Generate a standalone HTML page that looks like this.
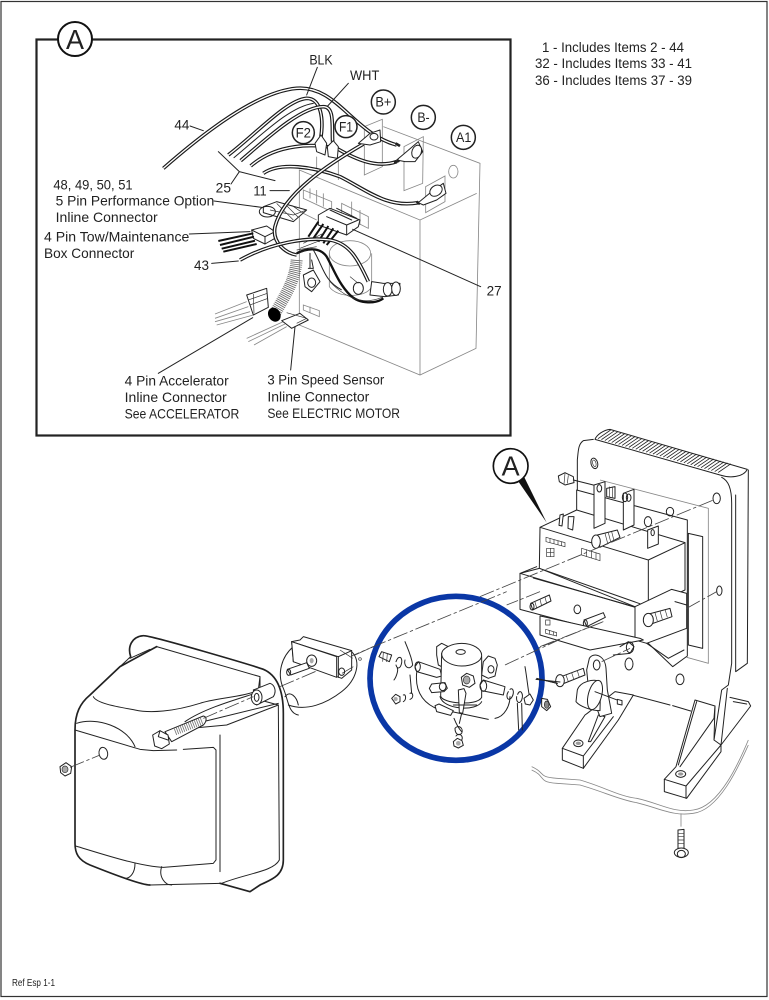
<!DOCTYPE html>
<html><head><meta charset="utf-8"><style>
html,body{margin:0;padding:0;background:#fff;width:769px;height:1000px;overflow:hidden}
svg{display:block}
text{font-family:"Liberation Sans",sans-serif;fill:#222}
.z text{font-size:42px}
.l{fill:none;stroke:#222;stroke-width:3;stroke-linecap:round;stroke-linejoin:round}
.f{fill:#fff;stroke:#222;stroke-width:3;stroke-linejoin:round}
.g{fill:none;stroke:#888;stroke-width:2.5}
.h{fill:none;stroke:#333;stroke-width:2}
.w{fill:none;stroke:#1a1a1a;stroke-width:11;stroke-linecap:butt}
.c{fill:none;stroke:#fff;stroke-width:4;stroke-linecap:butt}
.d{fill:none;stroke:#444;stroke-width:2.5;stroke-dasharray:45 8 10 8}
.t{fill:none;stroke:#222;stroke-width:5;stroke-linecap:round;stroke-linejoin:round}
</style></head><body>
<svg width="769" height="1000" viewBox="0 0 769 1000" xmlns="http://www.w3.org/2000/svg">
<rect width="769" height="1000" fill="#fff"/>
<rect x="1" y="1.5" width="766" height="995" fill="none" stroke="#333" stroke-width="1.2"/>
<rect x="36.5" y="39.5" width="474" height="396" fill="#fff" stroke="#222" stroke-width="2.2"/>
<circle cx="75" cy="39" r="17" fill="#fff" stroke="#111" stroke-width="2"/>
<text x="75" y="49" font-size="28" text-anchor="middle" textLength="18" lengthAdjust="spacingAndGlyphs">A</text>
<text x="542" y="52" font-size="13.5" textLength="142" lengthAdjust="spacingAndGlyphs">1 - Includes Items 2 - 44</text>
<text x="535" y="68" font-size="13.5" textLength="157" lengthAdjust="spacingAndGlyphs">32 - Includes Items 33 - 41</text>
<text x="535" y="85" font-size="13.5" textLength="157" lengthAdjust="spacingAndGlyphs">36 - Includes Items 37 - 39</text>
<text x="12" y="986" font-size="10" textLength="43" lengthAdjust="spacingAndGlyphs">Ref Esp 1-1</text>

<!-- Inset -->
<g class="z" transform="translate(30,20) scale(.33333)">
<g class="g">
<path d="M1060,320 L1350,430 L1338,985 L1170,1065 L808,915 L808,450 L1170,600 L1170,1065"/>
<path d="M1170,600 L1340,520"/>
<path d="M1003,465 V320 L1057,298 V440 Z M1122,380 L1180,350 L1178,490 L1122,512 Z M1187,500 L1245,468 V545 L1187,578 Z"/>
<ellipse cx="1270" cy="455" rx="14" ry="19"/>
<path d="M860,410 V470 M925,420 V480"/>
<path d="M820,510 L905,545 V575 L820,535 Z M840,505 V535 M860,510 V550 M880,520 V560"/>
<path d="M935,550 L1015,590 V625 L935,585 Z M965,545 V590 M990,570 V615"/>
<path d="M820,855 L868,872 V890 L820,870 Z M840,860 V878"/>
<path d="M820,580 L860,600"/>
</g>
<ellipse cx="960" cy="700" rx="62" ry="38" class="g"/><path class="g" d="M898,700 V800 C920,835 1010,835 1025,800 V700"/>
<!-- connectors -->
<path class="f" d="M700,560 L740,545 L830,570 L790,605 L700,578 Z"/>
<path class="h" stroke-width="3" d="M740,550 L790,600 M765,552 L805,592 M785,556 L820,580 M720,570 L790,585 L830,570"/>
<ellipse cx="712" cy="575" rx="24" ry="16" class="l"/>
<path class="f" d="M665,630 L710,618 L735,635 L735,655 L705,672 L670,655 Z"/>
<path class="l" d="M665,630 L705,650 V672 M705,650 L735,635"/>
<path d="M565,663 L670,640 M570,675 L672,650 M575,686 L675,662 M580,695 L680,672" fill="none" stroke="#111" stroke-width="6"/>
<path class="f" d="M865,585 L900,565 L990,600 L985,620 L950,645 L865,615 Z"/>
<path class="l" d="M900,570 L965,600 M920,565 L980,595 M890,590 L950,615 L985,600 M950,615 V645"/>
<path d="M865,605 L835,650 M880,612 L850,655 M895,618 L865,665 M910,625 L880,670 M925,632 L890,675" fill="none" stroke="#111" stroke-width="6"/>
<path class="h" d="M820,670 L880,640 M800,690 L860,680 M810,685 L875,660"/>
<!-- wires -->
<path class="w" d="M400,445 C520,340 680,215 800,205 C920,195 970,340 1100,375"/><path class="c" d="M400,445 C520,340 680,215 800,205 C920,195 970,340 1100,375"/>
<path class="w" d="M595,405 C680,340 770,240 830,235 C875,235 880,300 873,350"/><path class="c" d="M595,405 C680,340 770,240 830,235 C875,235 880,300 873,350"/>
<path class="w" d="M632,422 C700,365 810,260 880,260 C915,260 905,320 908,365"/><path class="c" d="M632,422 C700,365 810,260 880,260 C915,260 905,320 908,365"/>
<path class="l" stroke-width="4" d="M612,413 C700,340 780,260 850,250"/>
<path class="w" d="M662,438 C740,370 850,370 920,385 C980,420 1040,445 1100,425"/><path class="c" d="M662,438 C740,370 850,370 920,385 C980,420 1040,445 1100,425"/>
<path class="w" d="M700,460 C750,425 850,440 930,470 C1010,510 1070,565 1165,548"/><path class="c" d="M700,460 C750,425 850,440 930,470 C1010,510 1070,565 1165,548"/>
<path class="w" d="M1000,372 C900,430 760,520 735,620 C725,670 770,700 800,705"/><path class="c" d="M1000,372 C900,430 760,520 735,620 C725,670 770,700 800,705"/>
<path class="w" d="M630,720 C720,670 830,650 900,660 C960,670 985,720 1015,785"/><path class="c" d="M630,720 C720,670 830,650 900,660 C960,670 985,720 1015,785"/>
<path d="M800,700 C830,685 870,680 890,710 C910,745 925,790 960,825 C990,855 1040,850 1060,835" fill="none" stroke="#111" stroke-width="7"/>
<path d="M830,690 L805,700 M850,690 C880,740 880,780 935,810" fill="none" stroke="#222" stroke-width="3"/>
<!-- terminals -->
<path class="f" d="M860,395 L855,370 L873,345 L890,370 L885,405 Z M895,410 L892,380 L910,362 L925,380 L922,415 Z"/>
<path class="f" d="M985,370 L1020,340 L1050,330 L1052,365 L1020,375 Z"/><ellipse cx="1032" cy="350" rx="12" ry="10" class="l"/>
<path class="f" d="M1100,420 L1130,395 L1165,365 L1178,395 L1155,425 L1125,425 Z"/><ellipse cx="1160" cy="395" rx="14" ry="20" class="f" transform="rotate(20 1160 395)"/>
<path d="M1097,370 L1110,378 M1092,428 L1108,422 M1160,545 L1170,552" stroke="#222" stroke-width="8"/>
<path class="f" d="M1165,548 L1205,515 L1240,490 L1248,520 L1220,540 L1180,555 Z"/><ellipse cx="1218" cy="512" rx="20" ry="15" class="f" transform="rotate(-35 1218 512)"/>
<path class="f" d="M820,765 L850,750 L870,785 L845,815 L825,800 Z"/><ellipse cx="845" cy="788" rx="12" ry="14" class="l"/>
<path class="l" d="M840,700 V745 M835,745 L850,745 L845,720"/>
<ellipse cx="985" cy="805" rx="15" ry="18" class="f"/>
<path class="f" d="M1025,785 L1060,790 L1110,790 L1105,825 L1065,830 L1020,825 Z"/>
<ellipse cx="1073" cy="808" rx="13" ry="20" class="f"/><ellipse cx="1098" cy="806" rx="13" ry="20" class="f"/>
<path class="h" d="M900,785 C960,850 1020,850 1060,830 M960,770 L985,790" />
<!-- corrugated -->
<path d="M800,720 C795,780 770,820 735,880" fill="none" stroke="#666" stroke-width="36" stroke-dasharray="2.5 3.5"/>
<ellipse cx="733" cy="884" rx="18" ry="22" fill="#000" transform="rotate(-30 733 884)"/>
<!-- accelerator -->
<path class="g" d="M650,845 L555,882 M655,860 L555,895 M660,875 L555,905 M670,885 L560,915"/>
<path class="f" d="M650,825 L710,805 L715,862 L670,885 Z"/><path class="h" d="M670,822 L672,880 M655,840 L712,820 M660,855 L714,835"/>
<path class="g" d="M760,905 L650,955 M765,912 L655,965 M770,920 L672,975"/>
<path class="f" d="M755,902 L810,880 L835,900 L785,925 Z"/>
<path class="h" d="M770,878 L830,895 L800,910"/>
<!-- leader lines -->
<path class="l" d="M552,543 L695,562 M478,642 L660,635 M545,730 L625,723 M968,628 L1352,800 M720,512 L778,512 M603,492 L628,455 L565,395 M628,455 L735,482 M385,1060 L668,893 M782,1050 L795,920 M480,318 L520,332 M830,225 L862,142 M893,258 L955,190" stroke-width="2.6"/>
<g fill="#fff" stroke="#222" stroke-width="4.5">
<circle cx="1060" cy="246" r="36"/><circle cx="1180" cy="292" r="36"/><circle cx="1300" cy="352" r="36"/><circle cx="820" cy="338" r="33"/><circle cx="948" cy="320" r="33"/>
</g>
<text x="1036" y="260" textLength="48" lengthAdjust="spacingAndGlyphs">B+</text>
<text x="1162" y="306" textLength="37" lengthAdjust="spacingAndGlyphs">B-</text>
<text x="1278" y="366" textLength="46" lengthAdjust="spacingAndGlyphs">A1</text>
<text x="797" y="352" textLength="46" lengthAdjust="spacingAndGlyphs">F2</text>
<text x="927" y="334" textLength="42" lengthAdjust="spacingAndGlyphs">F1</text>
<text x="838" y="133" textLength="70" lengthAdjust="spacingAndGlyphs">BLK</text>
<text x="960" y="180" textLength="88" lengthAdjust="spacingAndGlyphs">WHT</text>
<text x="433" y="328" textLength="45" lengthAdjust="spacingAndGlyphs">44</text>
<text x="557" y="518" textLength="46" lengthAdjust="spacingAndGlyphs">25</text>
<text x="670" y="526" textLength="40" lengthAdjust="spacingAndGlyphs">11</text>
<text x="70" y="508" textLength="238" lengthAdjust="spacingAndGlyphs">48, 49, 50, 51</text>
<text x="77" y="556" textLength="476" lengthAdjust="spacingAndGlyphs">5 Pin Performance Option</text>
<text x="77" y="606" textLength="306" lengthAdjust="spacingAndGlyphs">Inline Connector</text>
<text x="42" y="664" textLength="436" lengthAdjust="spacingAndGlyphs">4 Pin Tow/Maintenance</text>
<text x="42" y="714" textLength="271" lengthAdjust="spacingAndGlyphs">Box Connector</text>
<text x="492" y="750" textLength="45" lengthAdjust="spacingAndGlyphs">43</text>
<text x="1370" y="826" textLength="45" lengthAdjust="spacingAndGlyphs">27</text>
<text x="284" y="1096" textLength="312" lengthAdjust="spacingAndGlyphs">4 Pin Accelerator</text>
<text x="284" y="1146" textLength="306" lengthAdjust="spacingAndGlyphs">Inline Connector</text>
<text x="284" y="1196" textLength="344" lengthAdjust="spacingAndGlyphs">See ACCELERATOR</text>
<text x="712" y="1094" textLength="351" lengthAdjust="spacingAndGlyphs">3 Pin Speed Sensor</text>
<text x="712" y="1144" textLength="306" lengthAdjust="spacingAndGlyphs">Inline Connector</text>
<text x="712" y="1194" textLength="398" lengthAdjust="spacingAndGlyphs">See ELECTRIC MOTOR</text>
</g>

<!-- Controller assembly -->
<g transform="translate(480,420) scale(.33333)">
<!-- plate outline, lines only -->
<path class="l" d="M292,290 V120 C295,90 295,72 310,62 L340,58"/>
<path class="l" d="M725,172 C745,182 755,205 755,250 V730 L745,795 L725,810 L702,960 M767,225 V755 L802,730 L805,150 M742,805 L723,975"/>
<path class="l" d="M750,832 L805,845 L812,858 L723,975 M760,845 L800,852"/>
<!-- heat sink -->
<path class="f" d="M345,58 L720,165 C750,175 790,172 802,148 L390,28 C370,30 350,45 345,58 Z"/>
<path fill="none" stroke="#222" stroke-width="2.4" d="M354,56 l38,-26 m-27.7,28.9 l38,-26 m-27.7,28.9 l38,-26 m-27.7,28.9 l38,-26 m-27.7,28.9 l38,-26 m-27.7,28.9 l38,-26 m-27.7,28.9 l38,-26 m-27.7,28.9 l38,-26 m-27.7,28.9 l38,-26 m-27.7,28.9 l38,-26 m-27.7,28.9 l38,-26 m-27.7,28.9 l38,-26 m-27.7,28.9 l38,-26 m-27.7,28.9 l38,-26 m-27.7,28.9 l38,-26 m-27.7,28.9 l38,-26 m-27.7,28.9 l38,-26 m-27.7,28.9 l38,-26 m-27.7,28.9 l38,-26 m-27.7,28.9 l38,-26 m-27.7,28.9 l38,-26 m-27.7,28.9 l38,-26 m-27.7,28.9 l38,-26 m-27.7,28.9 l38,-26 m-27.7,28.9 l38,-26 m-27.7,28.9 l38,-26 m-27.7,28.9 l38,-26 m-27.7,28.9 l38,-26 m-27.7,28.9 l38,-26 m-27.7,28.9 l38,-26 m-27.7,28.9 l38,-26 m-27.7,28.9 l38,-26 m-27.7,28.9 l38,-26 m-27.7,28.9 l38,-26 m-27.7,28.9 l38,-26 m-27.7,28.9 l38,-26"/>
<ellipse cx="343" cy="130" rx="10" ry="16" class="l" transform="rotate(-15 343 130)"/><ellipse cx="343" cy="130" rx="5" ry="10" class="h" transform="rotate(-15 343 130)"/>
<ellipse cx="710" cy="235" rx="11" ry="16" class="l"/>
<path class="g" d="M360,180 L685,265 V730 L620,712"/>
<path class="f" d="M290,210 L622,300 V708 L578,740 L505,670 V500 L290,440 Z"/>
<path class="f" d="M625,340 L668,350 V685 L625,675 Z"/>
<ellipse cx="570" cy="275" rx="11" ry="13" class="l"/>
<!-- box -->
<path class="f" d="M180,322 L290,270 L615,368 V510 L505,560 L178,445 Z"/>
<path class="l" d="M180,322 L505,420 L615,368 M505,420 V545"/>
<path class="f" d="M240,285 L250,282 L246,318 L237,316 Z M265,290 L282,290 L278,330 L264,325 Z"/>
<path class="f" d="M342,195 L375,185 V310 L342,325 Z"/><ellipse cx="358" cy="205" rx="7" ry="11" class="l"/>
<path class="f" d="M430,220 L462,208 V315 L430,330 Z"/><ellipse cx="446" cy="233" rx="7" ry="11" class="l"/>
<path class="f" d="M503,330 L535,318 V372 L503,385 Z"/><ellipse cx="518" cy="338" rx="5" ry="9" class="l"/>
<path class="h" d="M198,352 L255,368 V380 L198,365 Z M210,355 V368 M222,358 V372 M234,361 V375 M245,364 V378 M200,385 H222 V410 H200 Z M211,385 V410 M200,397 H222 M305,385 L360,402 V422 L305,405 Z M320,388 V410 M335,393 V415 M348,398 V418"/>
<path class="f" d="M235,168 L255,158 L280,170 L282,188 L255,195 L238,185 Z"/><path class="h" d="M255,160 L252,192 M265,166 L262,190"/><path class="l" d="M280,180 L340,195"/>
<path class="f" d="M380,205 L405,200 L405,235 L380,230 Z"/><path class="h" d="M388,200 V232 M397,200 V232"/><ellipse cx="435" cy="232" rx="8" ry="13" class="l"/>
<ellipse cx="504" cy="305" rx="11" ry="15" class="l"/>
<!-- top bolt -->
<path class="f" d="M352,345 L412,330 L420,352 L360,382 Z"/><ellipse cx="348" cy="365" rx="13" ry="20" class="f"/><path class="h" d="M375,340 L383,370 M385,338 L392,365 M395,335 L402,362"/>
<!-- bracket -->
<path class="f" d="M120,460 L178,445 L465,560 L575,508 L620,520 V625 L500,670 L465,660 L120,568 Z"/>
<path class="l" d="M120,460 L160,472 L465,562 V660 M620,555 L585,545"/>
<path class="l" stroke-width="5" d="M160,474 L462,560 M125,458 L170,440"/>
<path class="f" d="M152,550 L208,525 L213,543 L158,570 Z"/><ellipse cx="156" cy="560" rx="6" ry="10" class="l"/>
<path class="h" d="M165,546 L170,564 M180,538 L185,558 M195,532 L200,550"/>
<path class="f" d="M312,600 L370,578 L376,592 L320,620 Z"/><ellipse cx="316" cy="610" rx="6" ry="10" class="l"/>
<ellipse cx="292" cy="568" rx="10" ry="13" class="l"/>
<path class="f" d="M495,585 L570,565 L576,590 L505,615 Z"/><ellipse cx="505" cy="600" rx="15" ry="20" class="f"/><path class="h" d="M525,578 L532,603 M540,573 L547,598 M555,568 L562,592"/>
<ellipse cx="718" cy="512" rx="8" ry="14" class="l"/>
<path class="l" d="M500,670 L565,715 L612,690" />
<path class="f" d="M180,588 V645 L330,690 L490,660 L480,655 L190,590 Z"/>
<path class="h" d="M197,600 H210 V615 H197 Z M197,628 L230,638 V648 L197,640 Z M208,630 V642 M220,634 V645"/>
<path class="l" d="M420,680 L445,665 L462,680 L450,700 L400,705"/>
<ellipse cx="450" cy="682" rx="11" ry="16" class="l"/>
<ellipse cx="447" cy="732" rx="12" ry="18" class="l"/><ellipse cx="600" cy="778" rx="12" ry="16" class="l"/>
<!-- back line between feet -->
<path class="l" stroke-width="4" d="M460,826 L570,855 M578,857 L632,873"/>
<!-- left mount -->
<path class="f" d="M247,985 L315,885 L322,880 L405,815 L460,825 L415,900 L310,1045 L247,1020 Z"/>
<path class="l" d="M247,985 L310,1008 V1045 M310,1008 L400,890"/>
<path class="l" d="M325,965 L355,885 L375,890 L332,965 Z"/>
<ellipse cx="295" cy="970" rx="14" ry="10" class="l"/><ellipse cx="295" cy="970" rx="8" ry="5" fill="#999"/>
<path class="f" d="M320,750 L328,715 C340,695 375,705 378,745 L382,810 L395,880 L360,890 L325,800 Z"/><ellipse cx="350" cy="735" rx="10" ry="15" class="l"/>
<path class="f" d="M292,810 C300,785 340,775 362,785 L360,872 C335,872 300,860 288,845 Z"/><ellipse cx="345" cy="825" rx="20" ry="45" class="f" transform="rotate(15 345 825)"/>
<path class="f" d="M230,775 L310,745 L315,765 L240,795 Z"/><ellipse cx="240" cy="782" rx="13" ry="18" class="f"/>
<path class="h" d="M258,765 L265,785 M275,758 L282,780 M292,752 L298,772"/>
<path class="l" d="M170,775 L232,790" stroke-width="5"/>
<path class="l" d="M345,815 L425,845" stroke-width="5"/><path class="f" d="M412,838 L426,842 V855 L412,852 Z"/>
<!-- right foot -->
<path class="f" d="M553,1078 L588,1040 L645,840 L705,858 L702,960 L723,975 L723,995 L620,1135 L553,1115 Z"/>
<path class="l" d="M553,1078 L618,1098 V1135 M618,1098 L723,975 M702,895 L600,1040 M702,895 L705,858 M595,1035 L650,845"/>
<ellipse cx="602" cy="1062" rx="15" ry="10" class="l"/><ellipse cx="602" cy="1062" rx="8" ry="5" fill="#999"/>
<!-- floor lines -->
<path class="g" d="M155,1040 C200,1060 170,1070 230,1075 L300,1080 C370,1100 420,1130 470,1135 C540,1150 580,1180 640,1170 C720,1160 780,1020 805,960"/>
<path class="g" d="M155,1050 C200,1070 170,1085 230,1090 L300,1095 C370,1115 420,1140 470,1148 C540,1165 580,1190 640,1180 C720,1170 780,1030 805,975"/>
<!-- bottom bolt -->
<path class="g" d="M603,1180 V1220"/>
<path class="f" d="M594,1230 L612,1228 L612,1285 L594,1285 Z"/><path class="h" d="M594,1240 H612 M594,1250 H612 M594,1260 H612 M594,1270 H612"/>
<ellipse cx="604" cy="1298" rx="21" ry="14" class="f"/><ellipse cx="604" cy="1302" rx="12" ry="11" class="l"/>
<!-- center lines -->
<path class="d" d="M0,530 L700,240 M180,680 L370,605 M60,730 L370,605 M620,565 L710,515 M365,725 L450,685"/>
<!-- A callout -->
<path d="M112,180 L200,308 L132,170 Z" fill="#111"/>
<circle cx="92" cy="138" r="52" fill="#fff" stroke="#111" stroke-width="5"/>
<text x="92" y="166" font-size="84" text-anchor="middle" textLength="54" lengthAdjust="spacingAndGlyphs">A</text>
</g>

<!-- Cover and solenoid -->
<g transform="translate(40,590) scale(.33333)">
<path class="f" d="M272,200 C262,170 275,140 310,137 C330,135 650,230 670,238 C710,255 730,300 730,370 L730,810 C730,860 690,870 660,885 L630,905 L540,880 L330,885 C300,885 200,845 150,825 C115,810 105,790 105,760 L105,420 C105,370 120,340 150,315 L240,230 Z"/>
<path class="t" d="M272,200 C262,170 275,140 310,137 C330,135 650,230 670,238 C710,255 730,300 730,370 L730,810 C730,860 690,870 660,885 L630,905 L540,880 M330,885 C300,885 200,845 150,825 C115,810 105,790 105,760 L105,420 C105,370 120,340 150,315 L240,230 L350,170"/>
<path class="l" d="M350,170 L660,260 L655,300 C620,320 520,325 480,340 C400,365 330,370 285,360 C230,350 170,340 160,320 M660,260 V330 L715,345 L718,810 C700,845 620,850 545,880 M270,205 L330,178"/>
<path class="l" d="M105,420 L300,478 L340,482 L410,480 M430,478 L520,472 L528,480 V810 L520,820 L370,832 C300,830 180,790 107,768" stroke-width="4"/>
<path class="l" d="M110,400 C170,380 260,410 285,470 M285,820 C285,850 270,865 255,865 M365,830 C355,860 375,885 395,885 M540,435 V845 M435,395 C500,350 620,320 660,305 M450,415 L560,405 L715,345 M490,395 L715,340" stroke-width="3"/>
<path class="l" d="M105,420 V760" stroke-width="5"/>
<path class="f" d="M640,300 L690,280 C705,285 710,305 700,320 L650,345 Z"/><ellipse cx="650" cy="322" rx="16" ry="22" class="f"/><ellipse cx="650" cy="322" rx="7" ry="12" class="l"/>
<!-- bolt -->
<path class="f" d="M375,425 L490,378 C502,380 500,395 490,405 L395,455 Z"/>
<path d="M405,425 L490,392" fill="none" stroke="#777" stroke-width="22" stroke-dasharray="2.5 4"/>
<path class="f" d="M338,435 L360,422 L384,435 L388,462 L365,476 L344,468 Z"/>
<path class="l" d="M360,422 L355,440 L384,450"/>
<ellipse cx="190" cy="490" rx="13" ry="18" class="l" transform="rotate(-10 190 490)"/>
<path class="f" d="M60,530 L78,518 L95,530 L92,550 L75,558 L62,548 Z"/><ellipse cx="75" cy="538" rx="9" ry="10" fill="#aaa" stroke="#333" stroke-width="2"/>
<path class="d" d="M90,532 L180,495 M490,385 L640,320 M720,290 L1000,170"/>
<!-- relay -->
<path class="l" stroke-width="4" d="M760,170 C725,200 710,250 730,295 C745,330 745,370 775,375 M735,320 C750,300 770,320 775,345 M935,185 C965,215 950,270 905,305 C860,340 800,365 745,345"/>
<path class="f" d="M755,155 L780,150 L790,140 L935,182 L935,240 L905,265 L760,215 Z"/>
<path class="l" d="M755,155 L895,200 L935,182 M895,200 V262"/>
<path class="f" d="M755,155 L890,200 L890,262 L760,215 Z"/><ellipse cx="815" cy="212" rx="15" ry="17" class="f"/><ellipse cx="815" cy="212" rx="6" ry="8" fill="#aaa"/>
<path class="f" d="M742,238 L800,218 L808,235 L752,255 Z"/><ellipse cx="746" cy="247" rx="6" ry="9" class="l"/>
<path class="h" d="M900,180 L938,205 M906,250 L940,230"/>
<ellipse cx="905" cy="245" rx="9" ry="11" class="l"/>
<path class="d" d="M945,195 L1000,170"/><circle cx="960" cy="207" r="4" class="h"/>
<!-- blue ring -->
<ellipse cx="1248" cy="265" rx="258" ry="246" fill="#fff" stroke="#0a37a6" stroke-width="17"/>
<path class="d" d="M995,172 L1400,5 M1395,225 L1560,148"/>
<!-- inner stack left -->
<path class="f" d="M1017,200 L1025,185 L1055,195 L1048,215 Z"/><path class="h" d="M1030,188 L1028,215 M1042,190 L1040,216"/>
<path class="l" d="M1068,215 C1075,195 1088,200 1085,218 C1082,235 1072,240 1068,225 M1062,270 C1070,260 1075,240 1072,235 M1095,155 C1105,180 1115,200 1118,225 C1105,245 1090,225 1095,210"/>
<path class="f" d="M1125,230 L1135,215 L1200,238 L1205,258 L1190,262 L1130,245 Z"/><ellipse cx="1133" cy="230" rx="8" ry="14" class="l"/>
<path class="l" stroke-width="4" d="M1130,248 C1125,300 1145,340 1200,360 M1110,255 L1115,310 M1235,365 L1345,388 M1365,385 C1395,380 1410,345 1410,320"/>
<path class="f" d="M1185,347 L1197,342 L1240,362 L1232,376 L1190,365 Z"/>
<!-- solenoid body -->
<path class="f" d="M1190,195 L1190,170 L1205,160 L1235,175 L1215,205 L1205,230 L1195,225 Z"/>
<path class="f" d="M1330,215 L1345,198 L1365,205 L1372,225 L1365,258 L1345,265 L1325,255 Z"/><ellipse cx="1353" cy="238" rx="9" ry="11" class="l"/>
<path class="f" d="M1202,318 C1205,340 1310,350 1325,322 L1325,200 L1205,190 Z"/>
<path class="f" d="M1205,192 C1205,175 1235,160 1265,160 C1300,160 1325,178 1325,196 C1325,215 1295,228 1265,228 C1235,228 1205,212 1205,192 Z"/>
<ellipse cx="1262" cy="186" rx="14" ry="7" class="l"/>
<path class="l" d="M1200,320 C1210,360 1310,365 1325,335"/>
<path class="f" d="M1168,295 L1175,282 L1215,278 L1222,295 L1212,305 L1175,308 Z"/><ellipse cx="1208" cy="290" rx="10" ry="12" class="l"/>
<path class="f" d="M1255,300 L1272,296 L1278,310 L1268,370 L1258,368 Z"/><path class="l" d="M1265,370 L1258,400 M1240,345 L1310,345"/>
<path class="f" d="M1264,262 L1280,250 L1300,258 L1305,280 L1288,292 L1268,285 Z"/><ellipse cx="1280" cy="270" rx="10" ry="12" fill="#aaa" stroke="#333" stroke-width="2"/>
<path class="f" d="M1320,285 L1330,270 L1395,290 L1390,315 L1325,302 Z"/><ellipse cx="1330" cy="288" rx="10" ry="16" class="l"/>
<path class="l" d="M1410,298 C1420,290 1425,310 1413,325 C1400,335 1398,315 1405,305 M1433,313 C1440,295 1452,310 1445,330 C1438,345 1428,335 1430,320 M1432,340 L1436,420 M1445,340 L1447,420 M1455,230 C1462,270 1465,310 1470,325"/>
<path class="f" d="M1452,325 L1470,312 L1480,330 L1470,345 L1456,342 Z"/>
<path class="f" d="M1505,325 L1522,328 L1532,350 L1520,362 L1505,350 Z"/><ellipse cx="1520" cy="344" rx="7" ry="11" fill="#888" stroke="#222" stroke-width="2"/>
<path class="l" d="M1488,268 L1560,276" stroke-width="4"/>
<path class="l" d="M1242,385 C1250,405 1260,420 1265,425"/>
<path class="l" d="M1245,415 C1255,402 1272,415 1265,430 C1255,440 1245,430 1245,415 M1248,438 C1258,425 1272,440 1265,450"/>
<path class="f" d="M1240,455 L1252,445 L1266,452 L1270,466 L1255,474 L1242,468 Z"/><circle cx="1255" cy="460" r="7" fill="#aaa"/>
<path class="f" d="M1055,325 L1067,313 L1080,320 L1080,335 L1067,342 Z"/><circle cx="1067" cy="327" r="6" fill="#aaa"/>
<path class="l" d="M1090,315 C1098,310 1100,330 1090,335 M1110,310 C1120,305 1122,325 1110,328"/>
<path class="d" d="M1500,5 L1400,45"/>
</g>
<!-- stud and washer across the ring edge -->
<g transform="translate(480,420) scale(.33333)">
<path class="l" stroke-width="5" d="M170,775 L232,790"/>
</g>
</svg>
</body></html>
